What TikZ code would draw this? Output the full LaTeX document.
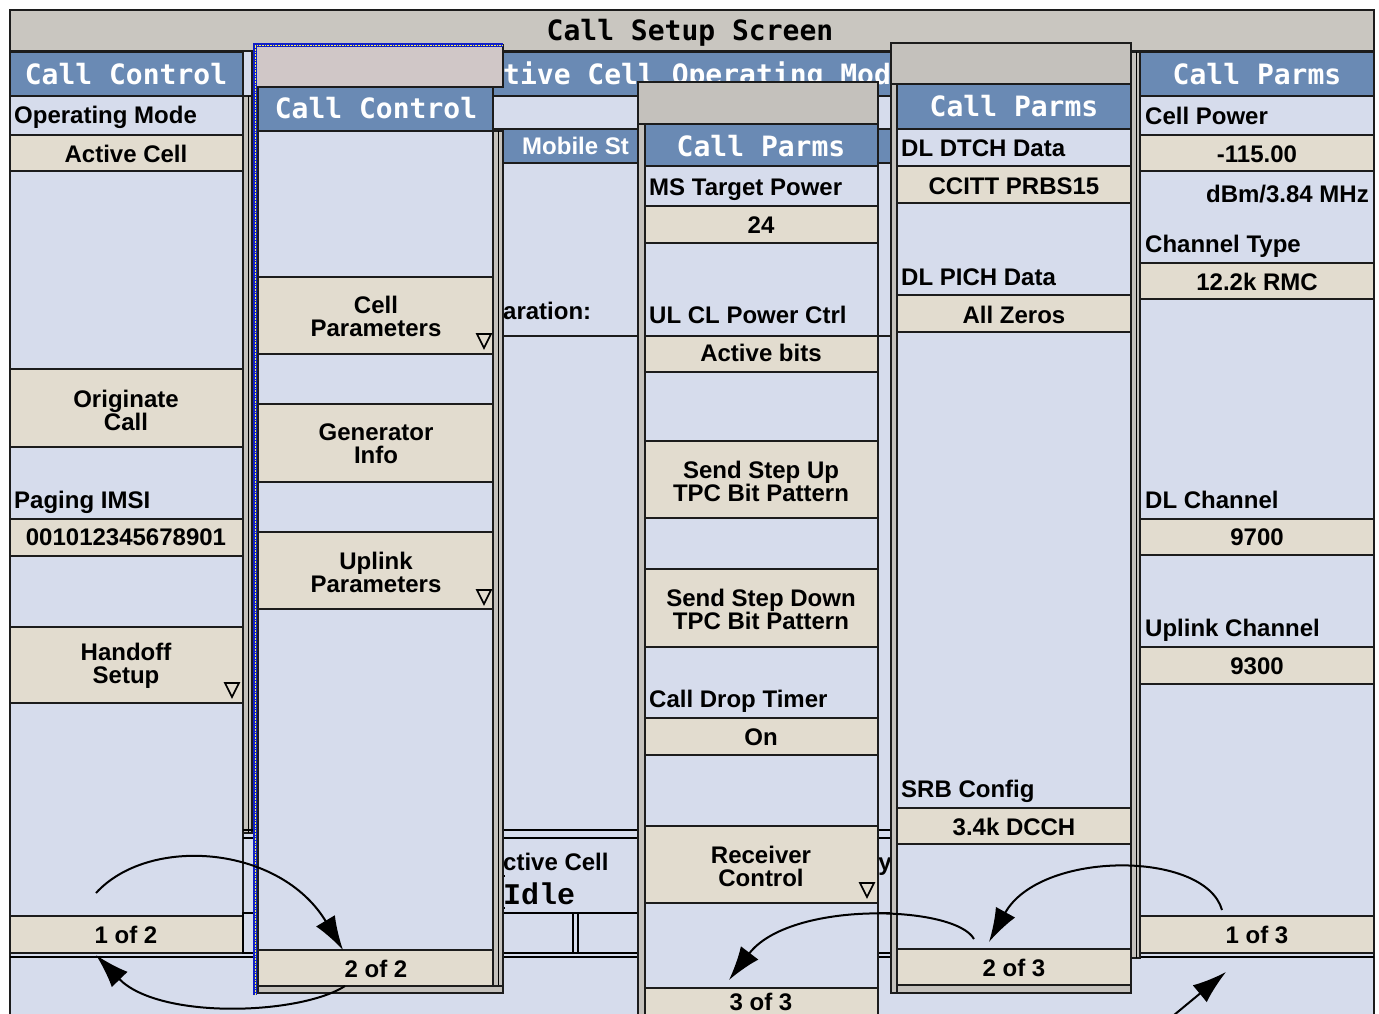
\documentclass[tikz,border=0pt]{standalone}
\usepackage{fontspec}
\setmainfont{Liberation Sans}
\newfontfamily\hdrfont{DejaVu Sans Mono}
\newfontfamily\idlefont{Liberation Mono}
\usetikzlibrary{arrows.meta,calc}

\definecolor{scrbg}{HTML}{D6DCEC}
\definecolor{keybg}{HTML}{E2DCCF}
\definecolor{hdblue}{HTML}{6A8AB4}
\definecolor{ttlgray}{HTML}{C9C6C0}
\definecolor{selgray}{HTML}{D0C7C7}
\definecolor{stripgray}{HTML}{C4C1BC}
\definecolor{edge}{HTML}{1C1C1C}
\definecolor{selblue}{HTML}{1020C8}

\tikzset{
  lb/.style={fill=scrbg, draw=edge, line width=2pt},
  bg/.style={fill=keybg, draw=edge, line width=2pt},
  hd/.style={fill=hdblue, draw=edge, line width=2pt},
  gry/.style={fill=stripgray, draw=edge, line width=1.5pt},
  lab/.style={anchor=base west, inner sep=0pt, font=\fontsize{24}{22}\selectfont\bfseries},
  val/.style={anchor=base, inner sep=0pt, font=\fontsize{24}{22}\selectfont\bfseries},
  key/.style={align=center, inner sep=0pt, font=\fontsize{24}{23}\selectfont\bfseries},
  ttl/.style={anchor=base, inner sep=0pt, text=white, font=\fontsize{28}{28}\hdrfont\bfseries},
  navarrow/.style={-{Latex[length=34pt,width=22pt]}, line width=2pt},
  dnmark/.pic={\draw[line width=1.6pt, fill=keybg] (-7,-7) -- (7,-7) -- (0,7) -- cycle;}
}

\begin{document}
\begin{tikzpicture}[x=1pt,y=-1pt]
\useasboundingbox (0,0) rectangle (1379,1013);
\clip (0,0) rectangle (1379,1013);
\fill[white] (0,0) rectangle (1379,1013);

% screen and title bar
\filldraw[lb] (10,10) rectangle (1374,1030);
\filldraw[gry, fill=ttlgray] (10,10) rectangle (1374,51);
\node[ttl, text=black] (title) at (690,40) {Call Setup Screen};

% left keys, page 1 of 2
\filldraw[hd] (10,52) rectangle (243,96);
\node[ttl] (cc1) at (126,84) {Call Control};
\filldraw[lb] (10,96) rectangle (243,135);
\node[lab] (opmode) at (14,123) {Operating Mode};
\filldraw[bg] (10,135) rectangle (243,171);
\node[val] (opmodeval) at (126,162) {Active Cell};
\filldraw[lb] (10,171) rectangle (243,369);
\filldraw[bg] (10,369) rectangle (243,447);
\node[key] (orig) at (126,410) {Originate\\Call};
\filldraw[lb] (10,447) rectangle (243,519);
\node[lab] (imsi) at (14,508) {Paging IMSI};
\filldraw[bg] (10,519) rectangle (243,556);
\node[val] (imsival) at (126,545) {001012345678901};
\filldraw[lb] (10,556) rectangle (243,627);
\filldraw[bg] (10,627) rectangle (243,703);
\node[key] (handoff) at (126,666) {Handoff\\Setup};
\pic at (232,690) {dnmark};
\filldraw[lb] (10,703) rectangle (243,916);
\filldraw[bg] (10,916) rectangle (243,953);
\node[val] (p12) at (126,943) {1 of 2};
\draw[line width=1.5pt] (10,957) -- (1374,957);
\filldraw[gry] (243,96) rectangle (252,833);
\draw[line width=1pt] (248,96) -- (248,833);

% operating mode area behind the menus
\filldraw[hd] (252,52) rectangle (1131,96);
\node[ttl, anchor=base west] (opmodettl) at (503,84) {tive Cell Operating Mod};
\filldraw[lb] (252,96) rectangle (1131,129);
\filldraw[hd] (252,129) rectangle (1131,163);
\node[lab, text=white] (msinfo) at (522,154) {Mobile St};
\filldraw[lb] (252,163) rectangle (1131,336);
\node[lab] (prep) at (503,319) {aration:};
\draw[line width=1.5pt] (243,830) -- (1140,830) (243,838) -- (1140,838);
\node[lab] (cellstat) at (503,870) {ctive Cell};
\node[lab, anchor=base east] (qual) at (892,870) {y};
\draw[line width=1.5pt] (505,876) -- (498,876) -- (498,908) -- (505,908);
\node[anchor=base west, inner sep=0pt, font=\fontsize{30}{30}\idlefont\bfseries] (idle) at (503,904) {Idle};
\draw[line width=1.5pt] (243,913) rectangle (1140,953);
\draw[line width=1.5pt] (573,913) -- (573,953) (578,913) -- (578,953);

% right keys, page 1 of 3
\filldraw[gry] (1131,52) rectangle (1140,958);
\draw[line width=1pt] (1136,52) -- (1136,958);
\filldraw[hd] (1140,52) rectangle (1374,96);
\node[ttl] (cp1) at (1257,84) {Call Parms};
\filldraw[lb] (1140,96) rectangle (1374,135);
\node[lab] (cellpwr) at (1145,124) {Cell Power};
\filldraw[bg] (1140,135) rectangle (1374,171);
\node[val] (cellpwrval) at (1257,162) {-115.00};
\filldraw[lb] (1140,171) rectangle (1374,263);
\node[lab, anchor=base east] (cellpwrunit) at (1369,202) {dBm/3.84 MHz};
\node[lab] (chtype) at (1145,252) {Channel Type};
\filldraw[bg] (1140,263) rectangle (1374,299);
\node[val] (chtypeval) at (1257,290) {12.2k RMC};
\filldraw[lb] (1140,299) rectangle (1374,519);
\node[lab] (dlch) at (1145,508) {DL Channel};
\filldraw[bg] (1140,519) rectangle (1374,555);
\node[val] (dlchval) at (1257,545) {9700};
\filldraw[lb] (1140,555) rectangle (1374,647);
\node[lab] (ulch) at (1145,636) {Uplink Channel};
\filldraw[bg] (1140,647) rectangle (1374,684);
\node[val] (ulchval) at (1257,674) {9300};
\filldraw[lb] (1140,684) rectangle (1374,916);
\filldraw[bg] (1140,916) rectangle (1374,953);
\node[val] (p13) at (1257,943) {1 of 3};

% page 2 of 2
\filldraw[gry, fill=selgray] (255,45) rectangle (503,87);
\filldraw[hd] (258,87) rectangle (493,131);
\node[ttl] (cc2) at (376,118) {Call Control};
\filldraw[gry] (493,131) rectangle (503,992);
\draw[line width=1pt] (498,131) -- (498,992);
\filldraw[lb] (258,131) rectangle (493,277);
\filldraw[bg] (258,277) rectangle (493,354);
\node[key] (cellpar) at (376,316) {Cell\\Parameters};
\pic at (484,341) {dnmark};
\filldraw[lb] (258,354) rectangle (493,404);
\filldraw[bg] (258,404) rectangle (493,482);
\node[key] (geninfo) at (376,444) {Generator\\Info};
\filldraw[lb] (258,482) rectangle (493,532);
\filldraw[bg] (258,532) rectangle (493,609);
\node[key] (ulpar) at (376,572) {Uplink\\Parameters};
\pic at (484,597) {dnmark};
\filldraw[lb] (258,609) rectangle (493,950);
\filldraw[bg] (258,950) rectangle (493,986);
\node[val] (p22) at (376,977) {2 of 2};
\filldraw[gry] (258,986) rectangle (503,993);
\draw[selblue, line width=4pt] (255,995) -- (255,45) -- (503,45);
\draw[yellow!70!white, densely dotted, line width=0.6pt] (255,995) -- (255,45) -- (503,45);

% page 3 of 3
\filldraw[gry] (638,82) rectangle (878,124);
\filldraw[gry] (638,124) rectangle (645,1030);
\filldraw[hd] (645,124) rectangle (878,166);
\node[ttl] (cp3) at (761,156) {Call Parms};
\filldraw[lb] (645,166) rectangle (878,206);
\node[lab] (mstp) at (649,195) {MS Target Power};
\filldraw[bg] (645,206) rectangle (878,243);
\node[val] (mstpval) at (761,233) {24};
\filldraw[lb] (645,243) rectangle (878,336);
\node[lab] (ulcl) at (649,323) {UL CL Power Ctrl};
\filldraw[bg] (645,336) rectangle (878,372);
\node[val] (ulclval) at (761,361) {Active bits};
\filldraw[lb] (645,372) rectangle (878,441);
\filldraw[bg] (645,441) rectangle (878,518);
\node[key] (stepup) at (761,481) {Send Step Up\\TPC Bit Pattern};
\filldraw[lb] (645,518) rectangle (878,569);
\filldraw[bg] (645,569) rectangle (878,647);
\node[key] (stepdn) at (761,609) {Send Step Down\\TPC Bit Pattern};
\filldraw[lb] (645,647) rectangle (878,718);
\node[lab] (cdt) at (649,707) {Call Drop Timer};
\filldraw[bg] (645,718) rectangle (878,755);
\node[val] (cdtval) at (761,745) {On};
\filldraw[lb] (645,755) rectangle (878,826);
\filldraw[bg] (645,826) rectangle (878,903);
\node[key] (rxctl) at (761,866) {Receiver\\Control};
\pic at (867,890) {dnmark};
\filldraw[lb] (645,903) rectangle (878,988);
\filldraw[bg] (645,988) rectangle (878,1030);
\node[val] (p33) at (761,1010) {3 of 3};

% page 2 of 3
\filldraw[gry] (891,43) rectangle (1131,84);
\filldraw[gry] (891,84) rectangle (897,993);
\filldraw[hd] (897,84) rectangle (1131,129);
\node[ttl] (cp2) at (1014,116) {Call Parms};
\filldraw[lb] (897,129) rectangle (1131,166);
\node[lab] (dtch) at (901,156) {DL DTCH Data};
\filldraw[bg] (897,166) rectangle (1131,203);
\node[val] (dtchval) at (1014,194) {CCITT PRBS15};
\filldraw[lb] (897,203) rectangle (1131,295);
\node[lab] (pich) at (901,285) {DL PICH Data};
\filldraw[bg] (897,295) rectangle (1131,332);
\node[val] (pichval) at (1014,323) {All Zeros};
\filldraw[lb] (897,332) rectangle (1131,808);
\node[lab] (srb) at (901,797) {SRB Config};
\filldraw[bg] (897,808) rectangle (1131,844);
\node[val] (srbval) at (1014,835) {3.4k DCCH};
\filldraw[lb] (897,844) rectangle (1131,949);
\filldraw[bg] (897,949) rectangle (1131,985);
\node[val] (p23) at (1014,976) {2 of 3};
\filldraw[gry] (897,985) rectangle (1131,993);

% page turning
\coordinate (wrap) at (1168,1020);
\draw[navarrow] ($(p12.base)+(-30,-50)$) .. controls +(53,-58) and +(-63,-105) .. ($(p22.base)+(-33,-27)$);
\draw[navarrow] ($(p22.base)+(-31,9)$) .. controls +(-45,29) and +(63,65) .. ($(p12.base)+(-30,12)$);
\draw[navarrow] ($(p13.base)+(-35,-33)$) .. controls +(-17,-60) and +(51,-92) .. ($(p23.base)+(-25,-34)$);
\draw[navarrow] ($(p23.base)+(-40,-37)$) .. controls +(-19,-34) and +(61,-80) .. ($(p33.base)+(-32,-30)$);
\draw[navarrow] (wrap) -- ($(p13.base)+(-31,29)$);
\end{tikzpicture}
\end{document}
